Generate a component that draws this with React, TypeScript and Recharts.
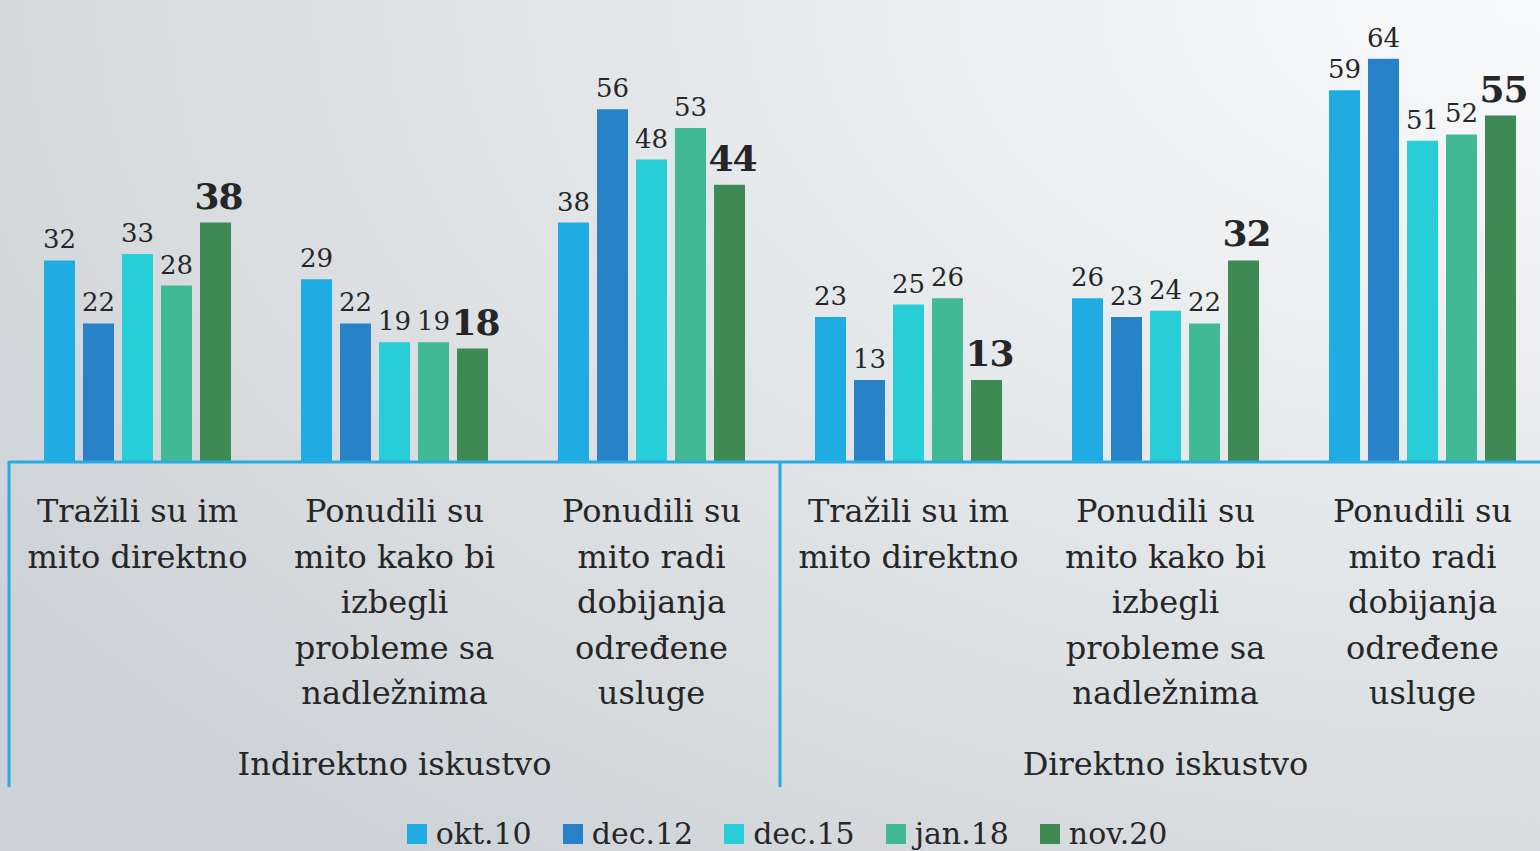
import { Bar, BarChart, LabelList, Legend, XAxis, YAxis } from 'recharts';

// Anketa o korupciji — iskustvo sa mitom, po talasima istraživanja (%)
const categories = [
  'Tražili su im mito direktno (ind)',
  'Ponudili su mito kako bi izbegli probleme (ind)',
  'Ponudili su mito radi usluge (ind)',
  'Tražili su im mito direktno (dir)',
  'Ponudili su mito kako bi izbegli probleme (dir)',
  'Ponudili su mito radi usluge (dir)',
];
const categoryLines = [
  ['Tražili su im', 'mito direktno'],
  ['Ponudili su', 'mito kako bi', 'izbegli', 'probleme sa', 'nadležnima'],
  ['Ponudili su', 'mito radi', 'dobijanja', 'određene', 'usluge'],
  ['Tražili su im', 'mito direktno'],
  ['Ponudili su', 'mito kako bi', 'izbegli', 'probleme sa', 'nadležnima'],
  ['Ponudili su', 'mito radi', 'dobijanja', 'određene', 'usluge'],
];
const groupLabels = ['Indirektno iskustvo', 'Direktno iskustvo'];

const okt10 = [32, 29, 38, 23, 26, 59];
const dec12 = [22, 22, 56, 13, 23, 64];
const dec15 = [33, 19, 48, 25, 24, 51];
const jan18 = [28, 19, 53, 26, 22, 52];
const nov20 = [38, 18, 44, 13, 32, 55];

const SERIES = [
  { key: 'okt10', name: 'okt.10', color: '#1EACE3', values: okt10 },
  { key: 'dec12', name: 'dec.12', color: '#2882C7', values: dec12 },
  { key: 'dec15', name: 'dec.15', color: '#27CED8', values: dec15 },
  { key: 'jan18', name: 'jan.18', color: '#42B995', values: jan18 },
  { key: 'nov20', name: 'nov.20', color: '#3D8A55', values: nov20 },
];

const FONT = '"DejaVu Serif", serif';
const TEXT = '#262626';
const AXIS_BLUE = '#29ABE2';
const HALF_BAND = 128.5;

const chartData = categories.map((c, i) => {
  const row: Record<string, string | number> = { category: c, idx: i };
  for (const s of SERIES) row[s.key] = s.values[i];
  return row;
});

function CategoryTick(props: any) {
  const { x, y, payload } = props;
  const idx: number = payload.index;
  const lines = categoryLines[idx] ?? [];
  return (
    <g>
      <text x={x} y={y} textAnchor="middle" fontFamily={FONT} fontSize={32} fill={TEXT}>
        {lines.map((l, i) => (
          <tspan key={i} x={x} dy={i === 0 ? 52 : 45.5}>
            {l}
          </tspan>
        ))}
      </text>
      {(idx === 0 || idx === 3) && (
        <line
          x1={x - HALF_BAND}
          x2={x - HALF_BAND}
          y1={y - 9}
          y2={y + 317}
          stroke={AXIS_BLUE}
          strokeWidth={3}
        />
      )}
      {(idx === 1 || idx === 4) && (
        <text
          x={x}
          y={y + 305}
          textAnchor="middle"
          fontFamily={FONT}
          fontSize={32}
          fill={TEXT}
        >
          {groupLabels[idx === 1 ? 0 : 1]}
        </text>
      )}
    </g>
  );
}

function makeValueLabel(bold: boolean) {
  return (props: any) => {
    const { x, y, width, value } = props;
    return (
      <text
        x={x + width / 2 + (bold ? 3 : 0)}
        y={y - (bold ? 14 : 12)}
        textAnchor="middle"
        fontFamily={FONT}
        fontSize={bold ? 36 : 26}
        fontWeight={bold ? 700 : 400}
        letterSpacing={bold ? -1 : 0}
        fill={TEXT}
      >
        {value}
      </text>
    );
  };
}

function LegendContent() {
  return (
    <div
      style={{
        display: 'flex',
        justifyContent: 'center',
        alignItems: 'center',
        gap: 31,
        fontFamily: FONT,
        fontSize: 30,
        color: TEXT,
        paddingLeft: 14,
        marginTop: 14,
      }}
    >
      {SERIES.map((s) => (
        <div key={s.key} style={{ display: 'flex', alignItems: 'center', gap: 9 }}>
          <span style={{ width: 20, height: 20, background: s.color, display: 'inline-block' }} />
          <span>{s.name}</span>
        </div>
      ))}
    </div>
  );
}

export default function App() {
  return (
    <div
      style={{
        position: 'absolute',
        left: 0,
        top: 0,
        width: 1540,
        height: 851,
        overflow: 'hidden',
        background:
          'radial-gradient(ellipse 120% 130% at 100% 0%, #f9fafb 0%, #e6e9eb 45%, #cdd2d6 100%)',
      }}
    >
      <BarChart
        width={1551}
        height={851}
        data={chartData}
        margin={{ top: 10, right: 0, bottom: 0, left: 9 }}
        barSize={31}
        barGap={8}
      >
        <XAxis
          dataKey="category"
          height={340}
          interval={0}
          tickLine={false}
          axisLine={{ stroke: AXIS_BLUE, strokeWidth: 3 }}
          tick={<CategoryTick />}
        />
        <YAxis hide domain={[0, 71.75]} />
        <Legend verticalAlign="bottom" height={49} content={<LegendContent />} />
        {SERIES.map((s) => (
          <Bar key={s.key} dataKey={s.key} name={s.name} fill={s.color} isAnimationActive={false}>
            <LabelList dataKey={s.key} content={makeValueLabel(s.key === 'nov20')} />
          </Bar>
        ))}
      </BarChart>
    </div>
  );
}
